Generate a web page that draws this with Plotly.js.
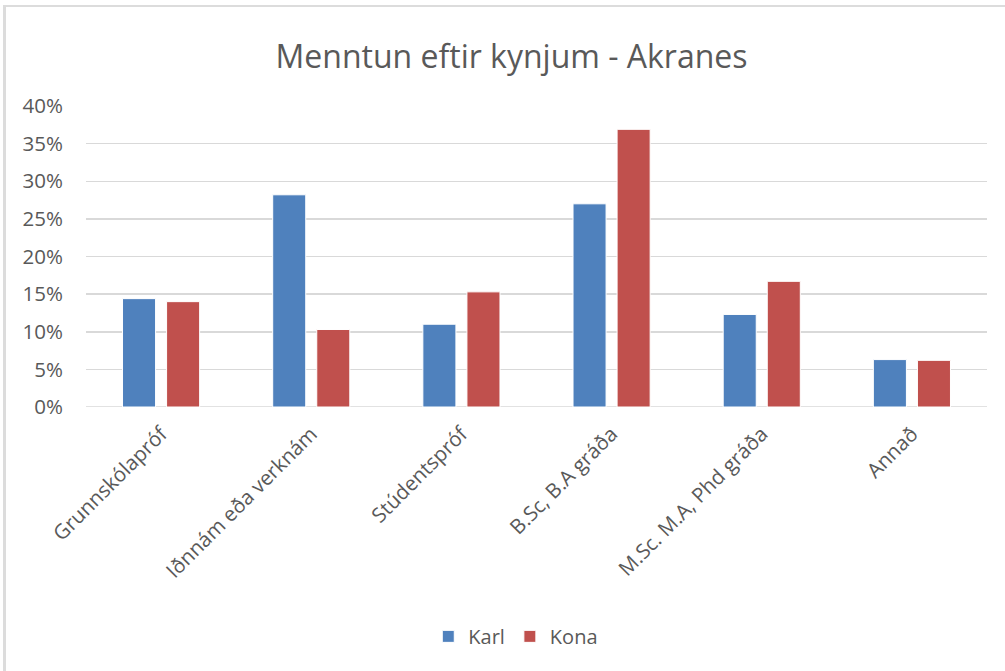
<!DOCTYPE html>
<html>
<head>
<meta charset="utf-8">
<script src="https://cdn.plot.ly/plotly-3.0.1.min.js"></script>
<style>
  html, body { margin: 0; padding: 0; background: #fff; overflow: hidden; }
  #frame { position: absolute; left: 3px; top: 5px; width: 1002px; height: 666px; border-top: 2px solid #dcdcdc; border-left: 3px solid #dcdcdc; box-sizing: border-box; }
  #chart { position: absolute; left: 0; top: 0; width: 1005px; height: 671px; }
</style>
</head>
<body>
<div id="frame"></div>
<div id="chart"></div>
<script>
const categories = ["Grunnskólapróf", "Iðnnám eða verknám", "Stúdentspróf", "B.Sc, B.A gráða", "M.Sc. M.A, Phd gráða", "Annað"];
const karl = [0.144, 0.282, 0.110, 0.270, 0.123, 0.063];
const kona = [0.140, 0.103, 0.153, 0.369, 0.167, 0.062];
const seriesNames = ["Karl", "Kona"];
const yTicks = [0, 0.05, 0.10, 0.15, 0.20, 0.25, 0.30, 0.35, 0.40];

const font = "'Open Sans', sans-serif";
const textColor = "#595959";

const traces = [
  { type: "bar", name: seriesNames[0], x: categories, y: karl,
    marker: { color: "#4F81BD", line: { color: "#ffffff", width: 1 } }, hoverinfo: "none" },
  { type: "bar", name: seriesNames[1], x: categories, y: kona,
    marker: { color: "#C0504D", line: { color: "#ffffff", width: 1 } }, hoverinfo: "none" }
];

const layout = {
  width: 1005, height: 671,
  paper_bgcolor: "rgba(0,0,0,0)", plot_bgcolor: "rgba(0,0,0,0)",
  margin: { l: 86, r: 18, t: 106, b: 264 },
  barmode: "group", bargap: 0.413, bargroupgap: 0.25,
  title: { text: "Menntun eftir kynjum - Akranes", x: 0.509, xref: "container", xanchor: "center",
           y: 0.915, yref: "container", yanchor: "middle", font: { family: font, size: 32, color: textColor } },
  font: { family: font, color: textColor },
  xaxis: { type: "category", tickangle: -45, tickfont: { family: font, size: 20.5, color: textColor },
           showgrid: false, zeroline: false, showline: false, ticks: "", ticklabelstandoff: 10, fixedrange: true },
  yaxis: { range: [0, 0.40], tickvals: yTicks, tickformat: ".0%", showgrid: true, gridcolor: "#D9D9D9",
           gridwidth: 1.5, zeroline: false, showline: false, ticks: "", ticklabelstandoff: 22,
           tickfont: { family: font, size: 20.5, color: textColor }, fixedrange: true },
  showlegend: true,
  legend: { orientation: "h", x: 0.477, xanchor: "center", y: -0.762, yanchor: "middle",
            font: { family: font, size: 20, color: textColor }, itemwidth: 30, tracegroupgap: 0 },
  shapes: [
    { type: "line", xref: "paper", yref: "y", x0: 0, x1: 1, y0: 0, y1: 0, line: { color: "#D9D9D9", width: 1.5 }, layer: "below" }
  ]
};

Plotly.newPlot("chart", traces, layout, { displayModeBar: false, staticPlot: true });
</script>
</body>
</html>
